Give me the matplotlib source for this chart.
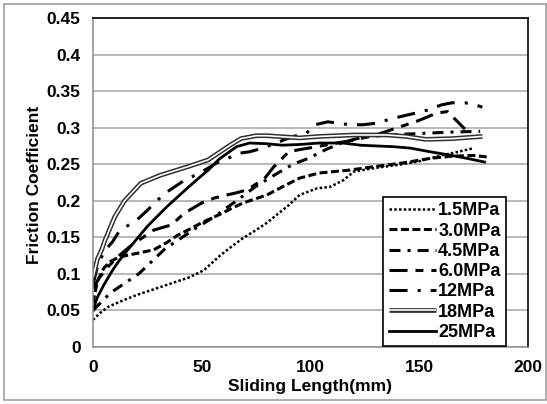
import matplotlib
matplotlib.use("Agg")
import matplotlib.pyplot as plt
from matplotlib.patches import Rectangle

plt.rcParams['font.family'] = ['Liberation Sans', 'DejaVu Sans']
plt.rcParams['font.weight'] = 'bold'

# friction curves (sliding length mm, friction coefficient)
x_15 = [0, 3, 7, 14, 20, 28, 36, 44, 51, 58, 64, 69, 75, 80, 85, 90, 95, 103, 109, 115, 120, 130, 140, 150, 160, 168, 175]
y_15 = [0.037, 0.046, 0.055, 0.064, 0.071, 0.079, 0.087, 0.095, 0.105, 0.124, 0.138, 0.149, 0.16, 0.17, 0.182, 0.194,
        0.208, 0.217, 0.219, 0.228, 0.24, 0.245, 0.249, 0.254, 0.262, 0.267, 0.272]

x_30 = [0, 2, 5, 8, 12, 20, 28, 34, 39, 45, 50, 58, 64, 69, 75, 80, 89, 95, 104, 118, 130, 143, 155, 165, 175, 181]
y_30 = [0.06, 0.09, 0.108, 0.117, 0.123, 0.128, 0.133, 0.143, 0.153, 0.162, 0.17, 0.181, 0.19, 0.197, 0.203, 0.208,
        0.222, 0.231, 0.238, 0.242, 0.247, 0.252, 0.258, 0.261, 0.262, 0.26]

x_45 = [0, 4, 8, 14, 21, 27, 33, 40, 47, 53, 58, 66, 75, 85, 92, 99, 107, 115, 124, 135, 150, 165, 178]
y_45 = [0.05, 0.062, 0.074, 0.086, 0.1, 0.117, 0.134, 0.148, 0.162, 0.173, 0.183, 0.2, 0.22, 0.238, 0.25, 0.258,
        0.27, 0.28, 0.287, 0.29, 0.292, 0.294, 0.295]

x_60 = [0, 3, 7, 12, 18, 24, 28, 36, 42, 50, 56, 66, 71, 79, 83, 90, 95, 103, 110, 120, 130, 140, 150, 158, 163, 167, 171]
y_60 = [0.08, 0.095, 0.11, 0.125, 0.14, 0.152, 0.16, 0.167, 0.183, 0.197, 0.204, 0.211, 0.215, 0.231, 0.246, 0.267,
        0.27, 0.274, 0.278, 0.283, 0.29, 0.3, 0.31, 0.32, 0.322, 0.31, 0.298]

x_12 = [0, 2, 5, 9, 12, 17, 21, 25, 29, 33, 38, 42, 47, 52, 57, 62, 67, 72, 78, 85, 92, 98, 102, 108, 118, 124, 130,
        137, 144, 150, 155, 160, 165, 171, 175, 179]
y_12 = [0.085, 0.11, 0.13, 0.144, 0.158, 0.168, 0.176, 0.187, 0.199, 0.21, 0.22, 0.228, 0.235, 0.243, 0.252, 0.258,
        0.265, 0.267, 0.272, 0.28, 0.288, 0.292, 0.304, 0.308, 0.304, 0.304, 0.306, 0.312, 0.317, 0.321, 0.325, 0.331,
        0.334, 0.334, 0.332, 0.328]

x_18 = [0, 2, 4, 5.5, 10, 14.5, 22, 31, 44, 53, 58, 63, 68, 75, 80, 95, 104, 120, 135, 144, 153, 165, 179]
y_18 = [0.095, 0.12, 0.133, 0.146, 0.178, 0.2, 0.224, 0.235, 0.247, 0.256, 0.266, 0.276, 0.285, 0.289, 0.289, 0.286,
        0.288, 0.29, 0.29, 0.288, 0.284, 0.285, 0.288]

x_25 = [0, 2, 5, 9, 12, 16, 25, 34, 44, 49, 53, 58, 66, 72, 80, 87, 95, 104, 115, 123, 138, 146, 155, 165, 172, 180]
y_25 = [0.05, 0.068, 0.085, 0.105, 0.118, 0.133, 0.165, 0.192, 0.219, 0.232, 0.242, 0.257, 0.274, 0.279, 0.278, 0.276,
        0.277, 0.279, 0.279, 0.276, 0.274, 0.272, 0.267, 0.262, 0.258, 0.253]

fig = plt.figure(figsize=(5.47, 4.04), dpi=100)
ax = fig.add_axes([93 / 547, 1 - 347 / 404, 435 / 547, 329 / 404])

l15, = ax.plot(x_15, y_15, color='black', lw=1.8, linestyle=(0, (1, 0.9)))
l30, = ax.plot(x_30, y_30, color='black', lw=2.2, linestyle=(0, (2.6, 1.15)))
l45, = ax.plot(x_45, y_45, color='black', lw=2.2, linestyle=(0, (3.6, 2.3, 1, 2.3)))
l60, = ax.plot(x_60, y_60, color='black', lw=2.2, linestyle=(0, (5.9, 2.6, 2.6, 2.6)))
l12, = ax.plot(x_12, y_12, color='black', lw=2.2, linestyle=(0, (5.9, 3.3, 1, 3.3)))
l18a, = ax.plot(x_18, y_18, color='#303030', lw=3.4, solid_capstyle='butt')
l18b, = ax.plot(x_18, y_18, color='white', lw=1.2, solid_capstyle='butt')
l25, = ax.plot(x_25, y_25, color='black', lw=2.0)

ax.set_xlim(0, 200)
ax.set_ylim(0, 0.45)
ax.set_xticks([0, 50, 100, 150, 200])
ax.set_yticks([0, 0.05, 0.1, 0.15, 0.2, 0.25, 0.3, 0.35, 0.4, 0.45])
ax.set_yticklabels(['0', '0.05', '0.1', '0.15', '0.2', '0.25', '0.3', '0.35', '0.4', '0.45'])
ax.tick_params(length=0, labelsize=12.5, pad=9)
ax.grid(axis='y', color='#a6a6a6', lw=1.1)
ax.set_axisbelow(True)
for side in ['left', 'bottom']:
    ax.spines[side].set_color('#8c8c8c')
    ax.spines[side].set_linewidth(1.1)
for side in ['top', 'right']:
    ax.spines[side].set_color('black')
    ax.spines[side].set_linewidth(1.2)

fig.text(310 / 547, 1 - 386 / 404, 'Sliding Length(mm)', ha='center', va='center', fontsize=12.5)
fig.text(35 / 547, 1 - 185 / 404, 'Friction Coefficient', ha='center', va='center', rotation=90, fontsize=12.5)

leg = ax.legend([l15, l30, l45, l60, l12, (l18a, l18b), l25],
                ['1.5MPa', '3.0MPa', '4.5MPa', '6.0MPa', '12MPa', '18MPa', '25MPa'],
                loc='upper left', bbox_to_anchor=(0.667, 0.456), fontsize=13, handlelength=2.6,
                handletextpad=0.15, labelspacing=0.18, borderpad=0.3, fancybox=False, framealpha=1,
                edgecolor='black', borderaxespad=0)
leg.get_frame().set_linewidth(1.2)

fig.patches.append(Rectangle((4 / 547, 4 / 404), 542 / 547, 396 / 404, transform=fig.transFigure,
                             fill=False, edgecolor='#a0a0a0', lw=1.2))

fig.savefig('out.png', dpi=100)
